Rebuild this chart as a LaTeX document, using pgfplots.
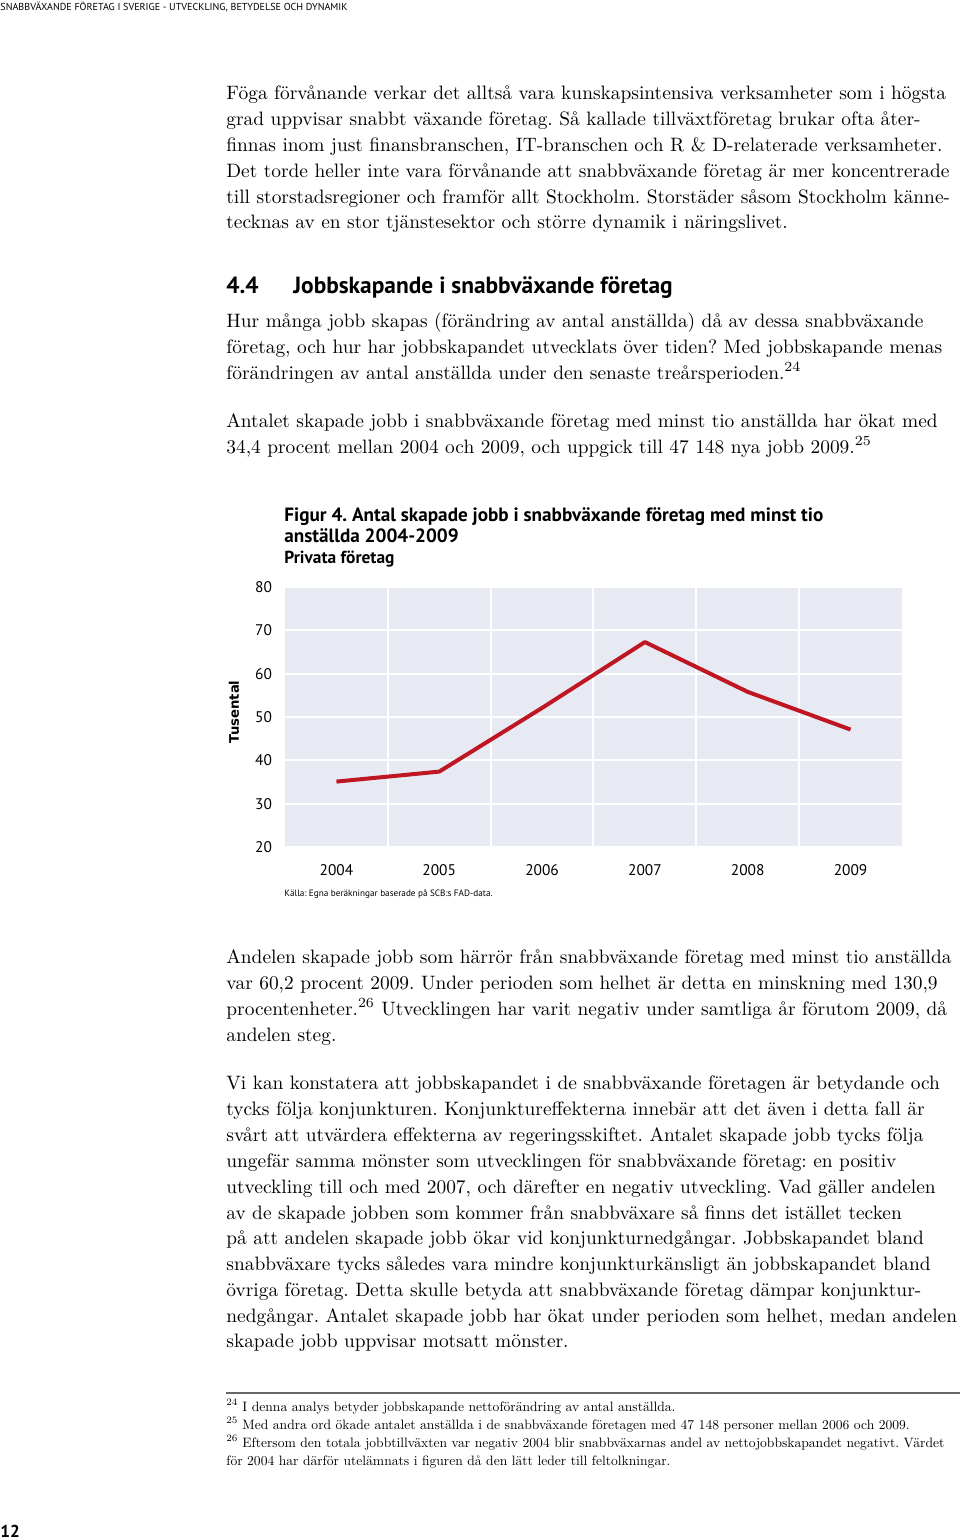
\documentclass[border=0pt]{standalone}
\usepackage{fontspec}
\usepackage{pgfplots}
\pgfplotsset{compat=1.18}
\newfontfamily\sansf{PT Sans}
\newfontfamily\dejab{DejaVu Sans}
\definecolor{bgc}{RGB}{232,234,243}
\definecolor{linec}{RGB}{190,22,34}
\frenchspacing
\newcommand\bodyfont{\fontsize{9.7}{13}\selectfont\frenchspacing}
% body line: #1 = visual centre y in px, #2 = text
\newcommand\B[2]{\node[anchor=base west,inner sep=0pt] at (226,#1+6) {\bodyfont #2};}
\newcommand\F[3]{\node[anchor=base west,inner sep=0pt] at (#1,#2+4) {\scalebox{0.70}{\bodyfont #3}};}
\begin{document}
\begin{tikzpicture}
\useasboundingbox (0,0) rectangle (480pt,-769.5pt);
\begin{scope}[x=0.5pt,y=-0.5pt]
% running header
\node[anchor=base west,inner sep=0pt] at (0,10) {\sansf\fontsize{5.05}{6}\selectfont SNABBVÄXANDE FÖRETAG I SVERIGE - UTVECKLING, BETYDELSE OCH DYNAMIK};
% paragraph 1
\B{93}{Föga förvånande verkar det alltså vara kunskapsintensiva verksamheter som i högsta}
\B{119}{grad uppvisar snabbt växande företag. Så kallade tillväxtföretag brukar ofta åter-}
\B{145}{finnas inom just finansbranschen, IT-branschen och R \& D-relaterade verksamheter.}
\B{171}{Det torde heller inte vara förvånande att snabbväxande företag är mer koncentrerade}
\B{197}{till storstadsregioner och framför allt Stockholm. Storstäder såsom Stockholm känne-}
\B{222}{tecknas av en stor tjänstesektor och större dynamik i näringslivet.}
% heading
\node[anchor=base west,inner sep=0pt] at (226,293) {\sansf\bfseries\fontsize{11.7}{13}\selectfont 4.4};
\node[anchor=base west,inner sep=0pt] at (293,293) {\sansf\bfseries\fontsize{11.7}{13}\selectfont Jobbskapande i snabbväxande företag};
% paragraph 2
\B{321}{Hur många jobb skapas (förändring av antal anställda) då av dessa snabbväxande}
\B{347}{företag, och hur har jobbskapandet utvecklats över tiden? Med jobbskapande menas}
\B{373}{förändringen av antal anställda under den senaste treårsperioden.\textsuperscript{\scriptsize 24}}
% paragraph 3
\B{421}{Antalet skapade jobb i snabbväxande företag med minst tio anställda har ökat med}
\B{447}{34,4 procent mellan 2004 och 2009, och uppgick till 47 148 nya jobb 2009.\textsuperscript{\scriptsize 25}}
% chart titles
\node[anchor=base west,inner sep=0pt] at (284,521) {\sansf\bfseries\fontsize{9.6}{11}\selectfont Figur 4. Antal skapade jobb i snabbväxande företag med minst tio};
\node[anchor=base west,inner sep=0pt] at (284,542) {\sansf\bfseries\fontsize{9.6}{11}\selectfont anställda 2004-2009};
\node[anchor=base west,inner sep=0pt] at (284,563) {\sansf\bfseries\fontsize{8.7}{10}\selectfont Privata företag};
\node[rotate=90,inner sep=0pt] at (234,712) {\dejab\bfseries\fontsize{6.6}{8}\selectfont Tusental};
\node[anchor=base west,inner sep=0pt] at (284,896) {\sansf\fontsize{4.6}{5}\selectfont Källa: Egna beräkningar baserade på SCB:s FAD-data.};
% paragraph 4
\B{957}{Andelen skapade jobb som härrör från snabbväxande företag med minst tio anställda}
\B{983}{var 60,2 procent 2009. Under perioden som helhet är detta en minskning med 130,9}
\B{1009}{procentenheter.\textsuperscript{\scriptsize 26} Utvecklingen har varit negativ under samtliga år förutom 2009, då}
\B{1035}{andelen steg.}
% paragraph 5
\B{1083}{Vi kan konstatera att jobbskapandet i de snabbväxande företagen är betydande och}
\B{1109}{tycks följa konjunkturen. Konjunktureffekterna innebär att det även i detta fall är}
\B{1135}{svårt att utvärdera effekterna av regeringsskiftet. Antalet skapade jobb tycks följa}
\B{1161}{ungefär samma mönster som utvecklingen för snabbväxande företag: en positiv}
\B{1187}{utveckling till och med 2007, och därefter en negativ utveckling. Vad gäller andelen}
\B{1213}{av de skapade jobben som kommer från snabbväxare så finns det istället tecken}
\B{1238}{på att andelen skapade jobb ökar vid konjunkturnedgångar. Jobbskapandet bland}
\B{1264}{snabbväxare tycks således vara mindre konjunkturkänsligt än jobbskapandet bland}
\B{1290}{övriga företag. Detta skulle betyda att snabbväxande företag dämpar konjunktur-}
\B{1316}{nedgångar. Antalet skapade jobb har ökat under perioden som helhet, medan andelen}
\B{1341}{skapade jobb uppvisar motsatt mönster.}
% footnotes
\draw[gray!80!black,line width=0.6pt] (226,1393) -- (960,1393);
\F{226}{1407}{\textsuperscript{\scriptsize 24}}
\F{242}{1407}{I denna analys betyder jobbskapande nettoförändring av antal anställda.}
\F{226}{1425}{\textsuperscript{\scriptsize 25}}
\F{242}{1425}{Med andra ord ökade antalet anställda i de snabbväxande företagen med 47 148 personer mellan 2006 och 2009.}
\F{226}{1443}{\textsuperscript{\scriptsize 26}}
\F{242}{1443}{Eftersom den totala jobbtillväxten var negativ 2004 blir snabbväxarnas andel av nettojobbskapandet negativt. Värdet}
\F{226}{1461}{för 2004 har därför utelämnats i figuren då den lätt leder till feltolkningar.}
% page number
\node[anchor=base west,inner sep=0pt] at (0,1537) {\sansf\bfseries\fontsize{8.6}{10}\selectfont 12};
\end{scope}
\begin{axis}[
 at={(142.5pt,-423.5pt)}, anchor=south west,
 scale only axis, width=308.5pt, height=130pt,
 xmin=2003.5, xmax=2009.5, ymin=20, ymax=80,
 axis background/.style={fill=bgc},
 axis line style={draw=none},
 xtick={2004,2005,2006,2007,2008,2009},
 ytick={20,30,40,50,60,70,80},
 minor xtick={2004.5,2005.5,2006.5,2007.5,2008.5},
 xminorgrids, ymajorgrids,
 major grid style={white, line width=1pt},
 minor grid style={white, line width=1pt},
 major tick length=0pt, minor tick length=0pt,
 tick label style={font=\sansf\fontsize{7.7}{9}\selectfont},
 /pgf/number format/assume math mode=true,
 /pgf/number format/1000 sep={},
 xticklabel style={yshift=-5pt},
 yticklabel style={xshift=-3pt},
 clip=false,
]
\addplot[linec, line width=2pt, line join=round] coordinates {(2004,35.1)(2005,37.4)(2006,52.1)(2007,67.3)(2008,55.8)(2009,47.1)};
\end{axis}
\end{tikzpicture}
\end{document}
